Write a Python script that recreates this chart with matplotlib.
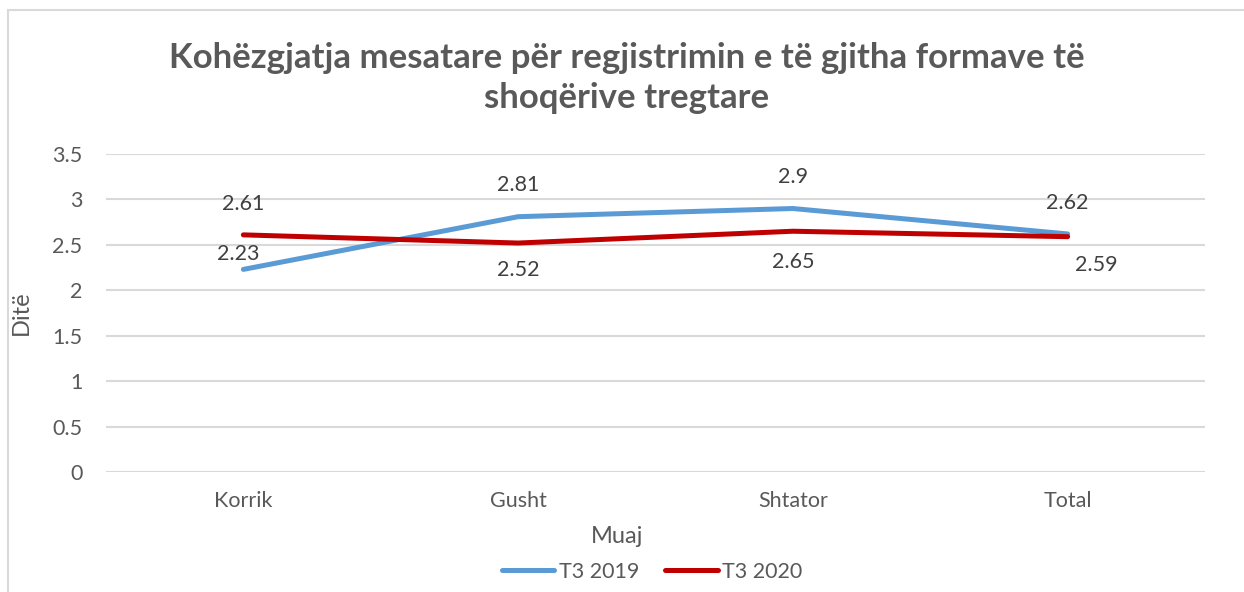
import matplotlib
matplotlib.use("Agg")
import matplotlib.pyplot as plt
from matplotlib.patches import Rectangle

# Datos
muajt = ["Korrik", "Gusht", "Shtator", "Total"]
t3_2019 = [2.23, 2.81, 2.9, 2.62]
t3_2020 = [2.61, 2.52, 2.65, 2.59]
yticks = [0, 0.5, 1, 1.5, 2, 2.5, 3, 3.5]

# desplazamiento de etiquetas (pixeles)
off_2019 = [(-5, 15), (0, 32), (0, 32), (0, 31)]
off_2020 = [(0, 31), (0, -27), (0, -31), (29, -28)]

plt.rcParams["font.family"] = ["Lato", "DejaVu Sans"]
gris = "#595959"

fig = plt.figure(figsize=(12.44, 5.92), dpi=100)
fig.patches.append(Rectangle((8 / 1244, -0.1), 1.2, 1 - 10 / 592 + 0.1,
                             transform=fig.transFigure, fill=False,
                             edgecolor="#D9D9D9", linewidth=1.5))
ax = fig.add_axes([106 / 1244, 1 - 472 / 592, 1099 / 1244, 318 / 592])

x = range(len(muajt))
ax.plot(x, t3_2019, color="#5B9BD5", linewidth=3.6, label="T3 2019",
        solid_capstyle="round")
ax.plot(x, t3_2020, color="#C00000", linewidth=3.6, label="T3 2020",
        solid_capstyle="round")

for i, v in enumerate(t3_2019):
    ax.annotate(str(v), (i, v), xytext=off_2019[i], textcoords="offset pixels",
                ha="center", va="center", fontsize=15.5, color="#404040")
for i, v in enumerate(t3_2020):
    ax.annotate(str(v), (i, v), xytext=off_2020[i], textcoords="offset pixels",
                ha="center", va="center", fontsize=15.5, color="#404040")

ax.set_xlim(-0.5, 3.5)
ax.set_ylim(0, 3.5)
ax.set_xticks(list(x))
ax.set_xticklabels(muajt)
ax.set_yticks(yticks)
ax.set_yticklabels([f"{t:g}" for t in yticks])
ax.tick_params(axis="both", length=0, labelsize=15.5, labelcolor=gris)
ax.tick_params(axis="y", pad=17)
ax.tick_params(axis="x", pad=14)
ax.grid(True, axis="y", color="#D9D9D9", linewidth=1.5)
ax.set_axisbelow(True)
for s in ax.spines.values():
    s.set_visible(False)

ax.set_xlabel("Muaj", fontsize=17, color=gris)
ax.xaxis.set_label_coords((617 - 106) / 1099, -(526 - 472) / 318)
ax.set_ylabel("Ditë", fontsize=17, color=gris)
ax.yaxis.set_label_coords(-(106 - 32) / 1099, 0.5)

fig.text(627 / 1244, 1 - 78 / 592,
         "Kohëzgjatja mesatare për regjistrimin e të gjitha formave të\nshoqërive tregtare",
         ha="center", va="center", fontsize=25, fontweight="bold", color=gris,
         linespacing=1.3)

fig.legend(loc="center", bbox_to_anchor=(652 / 1244, 1 - 572 / 592), ncol=2,
           frameon=False, fontsize=15.5, handlelength=2.45, handletextpad=0.2,
           columnspacing=1.2, labelcolor=gris)

fig.savefig("out.png", dpi=100)
